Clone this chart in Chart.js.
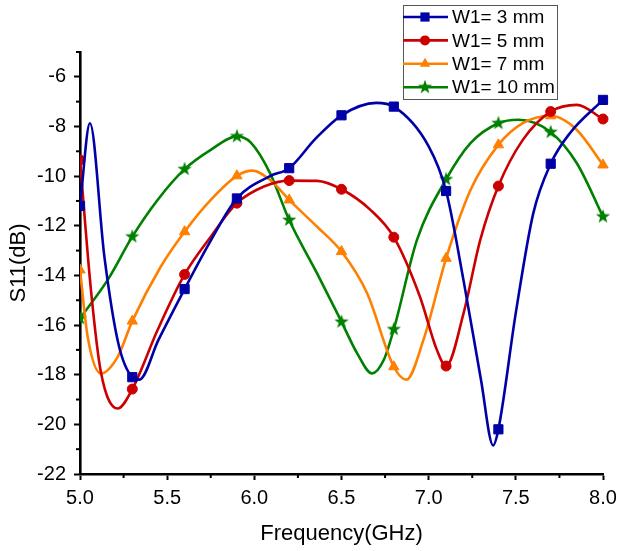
<!DOCTYPE html>
<html>
<head>
<meta charset="utf-8">
<script src="https://cdn.jsdelivr.net/npm/chart.js@4.4.1/dist/chart.umd.min.js"></script>
<style>
html, body { margin: 0; padding: 0; background: #fff; }
</style>
</head>
<body>
<canvas id="mainGraph" width="620" height="551"></canvas>
<script>
// values (GHz / dB)
var freqW3 = [5.0, 5.057, 5.14, 5.22, 5.3, 5.34, 5.45, 5.6, 5.75, 5.9, 6.09, 6.2, 6.35, 6.5, 6.7, 6.8, 7.0, 7.1, 7.2, 7.3, 7.37, 7.4, 7.5, 7.6, 7.7, 7.81, 8.0];
var s11W3  = [-11.2, -7.87, -13.25, -16.74, -18.1, -18.2, -16.6, -14.55, -12.6, -10.9, -10.0, -9.68, -8.5, -7.55, -7.05, -7.2, -8.8, -10.6, -14.2, -18.2, -20.85, -20.2, -15.5, -11.5, -9.5, -8.27, -6.93];

var freqW5 = [5.0, 5.063, 5.12, 5.216, 5.3, 5.445, 5.6, 5.75, 5.9, 6.055, 6.2, 6.36, 6.5, 6.666, 6.8, 6.95, 7.047, 7.1, 7.2, 7.296, 7.4, 7.54, 7.7, 7.85, 8.0];
var s11W5  = [-9.35, -14.6, -17.9, -19.36, -18.58, -16.2, -13.96, -12.44, -11.09, -10.42, -10.18, -10.19, -10.53, -11.36, -12.46, -14.86, -17.0, -17.65, -15.53, -12.57, -10.4, -8.54, -7.4, -7.13, -7.7];

var freqW7 = [5.0, 5.044, 5.12, 5.216, 5.3, 5.463, 5.6, 5.75, 5.9, 5.99, 6.09, 6.2, 6.36, 6.5, 6.647, 6.8, 6.872, 6.97, 7.1, 7.24, 7.4, 7.54, 7.7, 7.85, 8.0];
var s11W7  = [-13.78, -16.47, -17.95, -17.28, -15.84, -13.65, -12.24, -10.96, -9.99, -9.78, -10.15, -10.96, -12.04, -13.04, -14.72, -17.68, -18.2, -16.6, -13.31, -10.56, -8.74, -7.87, -7.57, -8.14, -9.55];

var freqW10 = [5.0, 5.158, 5.3, 5.445, 5.6, 5.75, 5.9, 5.98, 6.09, 6.2, 6.36, 6.5, 6.59, 6.675, 6.742, 6.8, 6.933, 7.1, 7.24, 7.4, 7.515, 7.7, 7.85, 8.0];
var s11W10  = [-15.73, -14.19, -12.44, -10.96, -9.72, -8.94, -8.4, -8.65, -9.88, -11.77, -13.92, -15.87, -17.14, -17.95, -17.41, -16.17, -12.57, -10.13, -8.67, -7.87, -7.73, -8.23, -9.48, -11.63];

// frequencies where the symbols are drawn
var markerFreqs = [5.0, 5.3, 5.6, 5.9, 6.2, 6.5, 6.8, 7.1, 7.4, 7.7, 8.0];

var seriesLabels = ['W1= 3 mm', 'W1= 5 mm', 'W1= 7 mm', 'W1= 10 mm'];
var xTicks = [5.0, 5.5, 6.0, 6.5, 7.0, 7.5, 8.0];

Chart.defaults.font.family = '"Liberation Sans", Arial, sans-serif';
Chart.defaults.color = '#000';

function makeStar(color) {
    var c = document.createElement('canvas');
    c.width = 16; c.height = 16;
    var g = c.getContext('2d');
    g.beginPath();
    for (var i = 0; i < 10; i++) {
        var r = i % 2 == 0 ? 7.5 : 3;
        var a = -Math.PI / 2 + i * Math.PI / 5;
        g.lineTo(8 + r * Math.cos(a), 8 + r * Math.sin(a));
    }
    g.closePath();
    g.fillStyle = color;
    g.fill();
    return c;
}

function toPoints(xs, ys) {
    return xs.map(function (x, i) { return {x: x, y: ys[i]}; });
}

function isMarker(x) {
    return markerFreqs.some(function (m) { return Math.abs(m - x) < 1e-6; });
}

var styles = [
    {color: '#0000a8', style: 'rect', radius: 6.5},
    {color: '#cc0000', style: 'circle', radius: 5},
    {color: '#ff8000', style: 'triangle', radius: 6},
    {color: '#008000', style: makeStar('#008000'), radius: 6}
];

function makeDataset(i, xs, ys) {
    var st = styles[i];
    return {
        label: seriesLabels[i],
        data: toPoints(xs, ys),
        borderColor: st.color,
        backgroundColor: st.color,
        borderWidth: 2.6,
        pointStyle: st.style,
        pointBorderWidth: 1,
        pointRadius: function (ctx) {
            if (!ctx.raw) return 0;
            return isMarker(ctx.raw.x) ? st.radius : 0;
        },
        pointHoverRadius: 0,
        cubicInterpolationMode: 'monotone',
        fill: false,
        clip: {left: 0, top: 10, right: 10, bottom: 0}
    };
}

// legend box with line + symbol, drawn over the plot
var boxLegend = {
    id: 'boxLegend',
    afterDraw: function (chart) {
        var ctx = chart.ctx;
        var bx = 403, by = 5, bw = 154, bh = 94;
        ctx.save();
        ctx.fillStyle = '#fff';
        ctx.fillRect(bx, by, bw, bh);
        ctx.strokeStyle = '#555';
        ctx.lineWidth = 1;
        ctx.strokeRect(bx + 0.5, by + 0.5, bw, bh);
        chart.data.datasets.forEach(function (ds, i) {
            var st = styles[i];
            var cy = 17 + i * 23.4;
            ctx.strokeStyle = st.color;
            ctx.lineWidth = 2.6;
            ctx.beginPath();
            ctx.moveTo(403, cy);
            ctx.lineTo(448, cy);
            ctx.stroke();
            ctx.fillStyle = st.color;
            var mx = 425;
            if (st.style == 'rect') {
                var s = st.radius * Math.SQRT1_2;
                ctx.fillRect(mx - s, cy - s, 2 * s, 2 * s);
            } else if (st.style == 'circle') {
                ctx.beginPath();
                ctx.arc(mx, cy, st.radius, 0, Math.PI * 2);
                ctx.fill();
            } else if (st.style == 'triangle') {
                var r = st.radius;
                ctx.beginPath();
                ctx.moveTo(mx, cy - r);
                ctx.lineTo(mx + r * 0.866, cy + r * 0.5);
                ctx.lineTo(mx - r * 0.866, cy + r * 0.5);
                ctx.closePath();
                ctx.fill();
            } else {
                ctx.drawImage(st.style, mx - 8, cy - 8);
            }
            ctx.fillStyle = '#000';
            ctx.font = '19px "Liberation Sans", Arial, sans-serif';
            ctx.textAlign = 'left';
            ctx.textBaseline = 'middle';
            ctx.fillText(ds.label, 452, cy + 1);
        });
        ctx.restore();
    }
};

// short minor ticks between the labelled ones
var minorTicks = {
    id: 'minorTicks',
    afterDraw: function (chart) {
        var ctx = chart.ctx;
        var xs = chart.scales.x, ys = chart.scales.y;
        var area = chart.chartArea;
        ctx.save();
        ctx.strokeStyle = '#000';
        ctx.lineWidth = 2;
        for (var f = 5.25; f < 8; f += 0.5) {
            var px = xs.getPixelForValue(f);
            ctx.beginPath();
            ctx.moveTo(px, area.bottom);
            ctx.lineTo(px, area.bottom + 4);
            ctx.stroke();
        }
        for (var v = -21; v <= -5; v += 2) {
            var py = ys.getPixelForValue(v);
            ctx.beginPath();
            ctx.moveTo(area.left, py);
            ctx.lineTo(area.left - 4, py);
            ctx.stroke();
        }
        ctx.restore();
    }
};

var ctx = document.getElementById('mainGraph').getContext('2d');
var chart = new Chart(ctx, {
    type: 'line',
    data: {
        datasets: [
            makeDataset(0, freqW3, s11W3),
            makeDataset(1, freqW5, s11W5),
            makeDataset(2, freqW7, s11W7),
            makeDataset(3, freqW10, s11W10)
        ]
    },
    options: {
        responsive: false,
        animation: false,
        layout: {padding: {top: 52, right: 17, left: 0, bottom: 0}},
        plugins: {legend: {display: false}, tooltip: {enabled: false}},
        scales: {
            x: {
                type: 'linear',
                min: 5, max: 8,
                afterFit: function (scale) {
                    scale.height = 77;
                    scale.paddingLeft = 0;
                    scale.paddingRight = 0;
                },
                afterBuildTicks: function (scale) {
                    scale.ticks = xTicks.map(function (v) { return {value: v}; });
                },
                ticks: {
                    font: {size: 20},
                    padding: 6,
                    maxRotation: 0,
                    callback: function (v) { return Number(v).toFixed(1); }
                },
                grid: {drawOnChartArea: false, tickLength: 6, tickWidth: 2, tickColor: '#000'},
                border: {display: true, color: '#000', width: 2.6},
                title: {display: true, text: 'Frequency(GHz)', font: {size: 22}, padding: {top: 0, bottom: 4}}
            },
            y: {
                min: -22, max: -5,
                afterFit: function (scale) { scale.width = 80; },
                ticks: {
                    font: {size: 20},
                    padding: 8,
                    stepSize: 2,
                    includeBounds: false,
                    callback: function (v) { return v; }
                },
                grid: {drawOnChartArea: false, tickLength: 6, tickWidth: 2, tickColor: '#000'},
                border: {display: true, color: '#000', width: 2.6},
                title: {display: true, text: 'S11(dB)', font: {size: 22}, padding: {top: 6, bottom: 0}}
            }
        }
    },
    plugins: [minorTicks, boxLegend]
});
</script>
</body>
</html>
